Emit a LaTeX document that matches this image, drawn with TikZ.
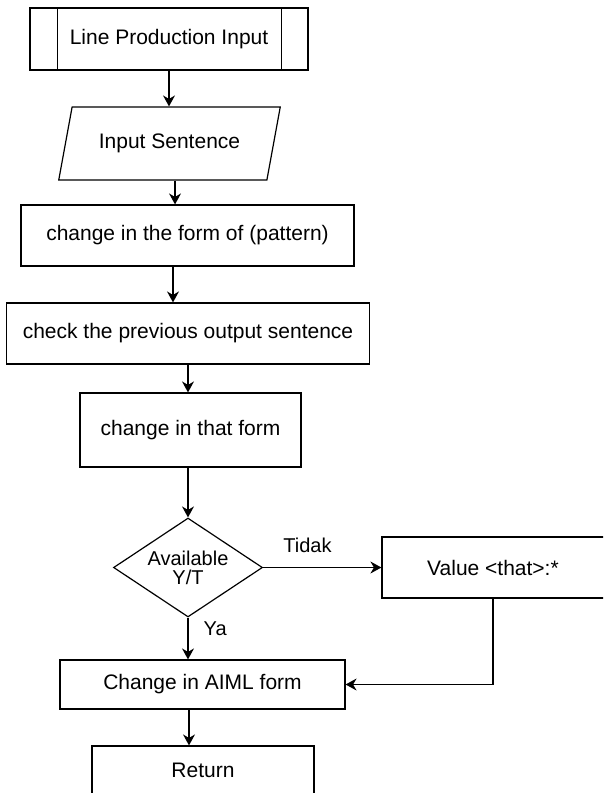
\documentclass[tikz,border=0pt]{standalone}
\usepackage{fontspec}
\setmainfont{Liberation Sans}
\usetikzlibrary{shapes.geometric,arrows.meta}
\tikzset{
  flow box/.style={draw,line width=1.2pt,inner sep=0pt,font=\fontsize{21}{22}\selectfont},
  io box/.style={flow box,trapezium,trapezium left angle=63,trapezium right angle=117,
    trapezium stretches=true,minimum width=222pt,minimum height=73pt},
  test box/.style={flow box,diamond,aspect=1.5,align=center,minimum width=149pt,
    minimum height=99pt,font=\fontsize{20}{19}\selectfont},
  flow line/.style={line width=1.3pt,-{Stealth[length=11pt,width=12pt]}},
  flow label/.style={inner sep=0pt,font=\fontsize{20}{22}\selectfont},
}

\begin{document}
\begin{tikzpicture}[x=1pt,y=-1pt]
\useasboundingbox (0,0) rectangle (603,793);
\clip (0,0) rectangle (603,793);
\node[flow box,minimum width=278pt,minimum height=62pt] (lpi) at (169,39) {Line Production Input};
\draw[line width=1.2pt] ([xshift=28pt]lpi.north west) -- ([xshift=28pt]lpi.south west)
  ([xshift=-27pt]lpi.north east) -- ([xshift=-27pt]lpi.south east);
\node[io box] (inp) at (169.5,143.5) {Input Sentence};
\node[flow box,minimum width=333pt,minimum height=61pt] (pat) at (187.5,235.5) {change in the form of (pattern)};
\node[flow box,minimum width=363pt,minimum height=61pt] (chk) at (188,333.5) {check the previous output sentence};
\node[flow box,minimum width=221pt,minimum height=74pt] (that) at (190.5,430) {change in that form};
\node[test box] (avl) at (188,567.5) {Available\\Y/T};
\node[flow box,minimum width=234pt,minimum height=61pt] (val) at (499,567.5) {\hspace*{-12pt}Value <that>:*};
\node[flow box,minimum width=285pt,minimum height=49pt] (aiml) at (202.5,684.5) {Change in AIML form};
\node[flow box,minimum width=222pt,minimum height=48pt] (ret) at (203,770) {Return};

\draw[flow line] (lpi.south) -- (lpi.south |- inp.north);
\draw[flow line] ([xshift=5.5pt]inp.south) -- ([xshift=5.5pt]inp.south |- pat.north);
\draw[flow line] ([xshift=-14.5pt]pat.south) -- ([xshift=-14.5pt]pat.south |- chk.north);
\draw[flow line] (chk.south) -- (chk.south |- that.north);
\draw[flow line] (that.south -| avl.north) -- (avl.north);
\draw[flow line] (avl.east) -- node[flow label,pos=0.375,above=14pt]{Tidak} (val.west);
\draw[flow line] (avl.south) -- node[flow label,pos=0.26,right=15pt]{Ya} (avl.south |- aiml.north);
\draw[flow line] ([xshift=-6pt]val.south) |- (aiml.east);
\draw[flow line] ([xshift=-13.5pt]aiml.south) -- ([xshift=-13.5pt]aiml.south |- ret.north);
\end{tikzpicture}
\end{document}
